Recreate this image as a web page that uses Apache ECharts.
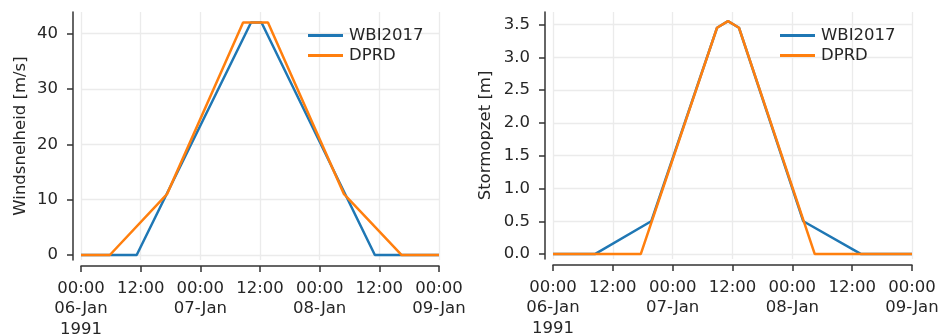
<!DOCTYPE html>
<html>
<head>
<meta charset="utf-8">
<script src="https://cdn.jsdelivr.net/npm/echarts@6/dist/echarts.min.js"></script>
<style>html,body{margin:0;padding:0;background:#fff}#c{width:940px;height:334px}</style>
</head>
<body>
<div id="c"></div>
<script>
// hours since 06-Jan-1991 00:00
const tickLabels = ["00:00\n06-Jan\n1991","12:00","00:00\n07-Jan","12:00","00:00\n08-Jan","12:00","00:00\n09-Jan"];
const seriesNames = ["WBI2017","DPRD"];
const windTicks = [0, 10, 20, 30, 40];
const surgeTicks = [0, 0.5, 1.0, 1.5, 2.0, 2.5, 3.0, 3.5];

const windWbiHours = [0, 11.2, 34.2, 36.3, 59.1, 72];
const windWbiValues = [0, 0, 42, 42, 0, 0];
const windDprdHours = [0, 5.8, 17.3, 32.6, 37.6, 52.9, 64.5, 72];
const windDprdValues = [0, 0, 11, 42, 42, 11, 0, 0];

const surgeWbiHours = [0, 8.4, 19.7, 32.9, 35.1, 37.3, 50.2, 61.8, 72];
const surgeWbiValues = [0, 0, 0.5, 3.45, 3.55, 3.45, 0.5, 0, 0];
const surgeDprdHours = [0, 17.6, 32.9, 35.1, 37.3, 52.5, 72];
const surgeDprdValues = [0, 0, 3.45, 3.55, 3.45, 0, 0];

const zip = (a, b) => a.map((x, i) => [x, b[i]]);
const FONT = 'DejaVu Sans';
const FS = 16.5;
const TXT = '#262626';
const AX = '#333333';
const GRIDC = '#ebebeb';
const colors = ['#1f77b4', '#ff7f0e'];

function xAxis(gi) {
  return {
    type: 'value', gridIndex: gi, min: 0, max: 72, interval: 12, offset: 6,
    axisLine: {show: true, onZero: false, lineStyle: {color: AX, width: 1.5}},
    axisTick: {show: true, length: 6, lineStyle: {color: AX, width: 1.5}},
    splitLine: {show: true, lineStyle: {color: GRIDC, width: 1.3}},
    axisLabel: {
      color: TXT, fontFamily: FONT, fontSize: FS, lineHeight: 20.5, margin: 12,
      verticalAlign: 'top', showMinLabel: true, showMaxLabel: true,
      formatter: v => tickLabels[Math.round(v / 12)]
    }
  };
}
function yAxis(gi, min, max, ticks, name, gap, dec) {
  return {
    type: 'value', gridIndex: gi, min: min, max: max, offset: 8,
    name: name, nameLocation: 'middle', nameGap: gap, nameRotate: 90,
    nameTextStyle: {color: TXT, fontFamily: FONT, fontSize: FS},
    axisLine: {show: true, onZero: false, lineStyle: {color: AX, width: 1.5}},
    axisTick: {show: true, length: 6, customValues: ticks, lineStyle: {color: AX, width: 1.5}},
    splitLine: {show: true, customValues: ticks, lineStyle: {color: GRIDC, width: 1.3}},
    axisLabel: {
      color: TXT, fontFamily: FONT, fontSize: FS, margin: 15, customValues: ticks,
      formatter: v => v.toFixed(dec)
    }
  };
}
function line(name, data, xi, yi, ci) {
  return {
    name: name, type: 'line', xAxisIndex: xi, yAxisIndex: yi, data: data,
    showSymbol: false, symbol: 'none', animation: false,
    lineStyle: {color: colors[ci], width: 2.5}, itemStyle: {color: colors[ci]}
  };
}
function legend(left) {
  return {
    orient: 'vertical', left: left, top: 27, padding: 0, itemWidth: 35, itemHeight: 3, itemGap: 3,
    icon: 'rect', data: seriesNames,
    textStyle: {color: TXT, fontFamily: FONT, fontSize: FS, padding: [0,0,0,1]},
    selectedMode: false
  };
}

const chart = echarts.init(document.getElementById('c'), null, {renderer: 'canvas'});
chart.setOption({
  animation: false,
  backgroundColor: '#ffffff',
  grid: [
    {left: 81, right: 501, top: 12, bottom: 74, outerBoundsMode: 'none', containLabel: false},
    {left: 553, right: 28, top: 12, bottom: 75, outerBoundsMode: 'none', containLabel: false}
  ],
  xAxis: [xAxis(0), xAxis(1)],
  yAxis: [
    yAxis(0, -0.9, 43.9, windTicks, 'Windsnelheid [m/s]', 44, 0),
    yAxis(1, -0.075, 3.69, surgeTicks, 'Stormopzet [m]', 51, 1)
  ],
  legend: [legend(308), legend(780)],
  series: [
    line(seriesNames[0], zip(windWbiHours, windWbiValues), 0, 0, 0),
    line(seriesNames[1], zip(windDprdHours, windDprdValues), 0, 0, 1),
    line(seriesNames[0], zip(surgeWbiHours, surgeWbiValues), 1, 1, 0),
    line(seriesNames[1], zip(surgeDprdHours, surgeDprdValues), 1, 1, 1)
  ]
});
</script>
</body>
</html>
